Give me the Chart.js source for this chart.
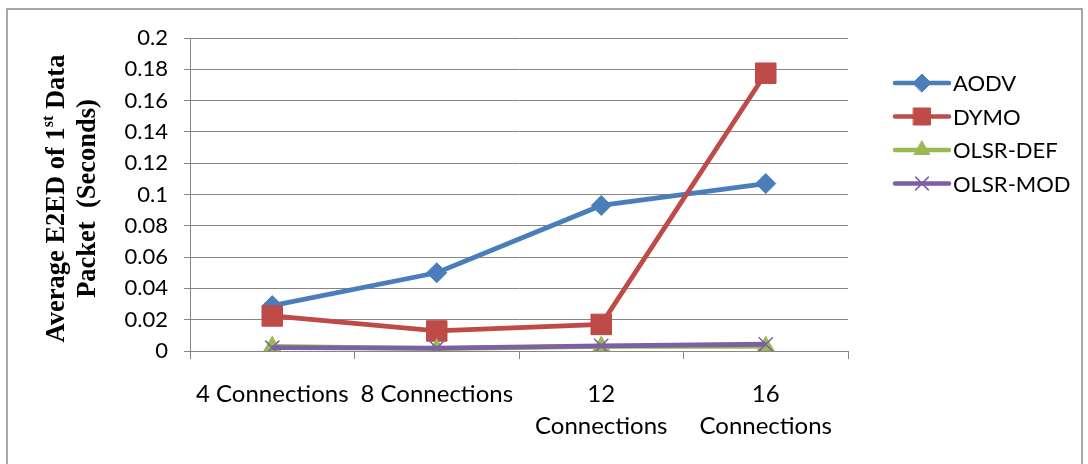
<!DOCTYPE html>
<html>
<head>
<meta charset="utf-8">
<script src="https://cdn.jsdelivr.net/npm/chart.js@4/dist/chart.umd.min.js"></script>
<style>
  html, body { margin: 0; padding: 0; background: #fff; }
</style>
</head>
<body>
<canvas id="myChart" width="1088" height="464"></canvas>
<script>
// values
const categories = ['4 Connections', '8 Connections', ['12', 'Connections'], ['16', 'Connections']];
const yTicks = [0, 0.02, 0.04, 0.06, 0.08, 0.1, 0.12, 0.14, 0.16, 0.18, 0.2];
const aodv = [0.029, 0.050, 0.093, 0.107];
const dymo = [0.0224, 0.0128, 0.017, 0.1775];
const olsrDef = [0.003, 0.0015, 0.003, 0.003];
const olsrMod = [0.0021, 0.0018, 0.0033, 0.0043];

const gridColor = '#868686';

// rotated y title with the "st" superscript
const yTitlePlugin = {
  id: 'yTitle',
  afterDraw(chart) {
    const ctx = chart.ctx;
    const cy = (chart.chartArea.top + chart.chartArea.bottom) / 2 + 4;
    const big = 'bold 26.5px "Liberation Serif"';
    const small = 'bold 16px "Liberation Serif"';
    const lines = [
      { x: 57, parts: [['Average E2ED of 1', big, 0], ['st', small, -8.5], [' Data', big, 0]] },
      { x: 88, parts: [['Packet  (Seconds)', big, 0]] }
    ];
    ctx.save();
    ctx.fillStyle = '#000';
    ctx.textBaseline = 'middle';
    lines.forEach(line => {
      let total = 0;
      line.parts.forEach(p => { ctx.font = p[1]; total += ctx.measureText(p[0]).width; });
      ctx.save();
      ctx.translate(line.x, cy);
      ctx.rotate(-Math.PI / 2);
      let x = -total / 2;
      line.parts.forEach(p => {
        ctx.font = p[1];
        ctx.fillText(p[0], x, p[2]);
        x += ctx.measureText(p[0]).width;
      });
      ctx.restore();
    });
    ctx.restore();
  }
};

// legend with line + marker, like the office one
const sideLegend = {
  id: 'sideLegend',
  afterDraw(chart) {
    const ctx = chart.ctx;
    const sizes = [9, 12, 9, 9];
    chart.data.datasets.forEach((ds, i) => {
      const y = 83 + i * 33.5;
      ctx.save();
      ctx.strokeStyle = ds.borderColor;
      ctx.lineWidth = 4.5;
      ctx.lineCap = 'round';
      ctx.beginPath();
      ctx.moveTo(895, y);
      ctx.lineTo(949, y);
      ctx.stroke();
      ctx.fillStyle = ds.backgroundColor;
      ctx.strokeStyle = ds.backgroundColor;
      ctx.lineWidth = ds.pointBorderWidth;
      Chart.helpers.drawPoint(ctx, { pointStyle: ds.pointStyle, radius: sizes[i], borderWidth: ds.pointBorderWidth, rotation: 0 }, 922, y);
      ctx.fillStyle = '#000';
      ctx.font = '22px Lato';
      ctx.textBaseline = 'middle';
      ctx.fillText(ds.label, 953, y + 1);
      ctx.restore();
    });
  }
};

const frame = {
  id: 'frame',
  beforeDraw(chart) {
    const ctx = chart.ctx;
    ctx.save();
    ctx.fillStyle = '#fff';
    ctx.fillRect(0, 0, chart.width, chart.height);
    ctx.strokeStyle = '#8a8a8a';
    ctx.lineWidth = 1.5;
    ctx.strokeRect(7, 9, 1075, 480);
    ctx.restore();
  }
};

const data = {
  labels: categories,
  datasets: [
    { label: 'AODV', data: aodv, borderColor: '#4A7EBB', backgroundColor: '#4A7EBB',
      pointStyle: 'rectRot', pointRadius: 10, pointBorderWidth: 1, order: 4 },
    { label: 'DYMO', data: dymo, borderColor: '#BE4B48', backgroundColor: '#BE4B48',
      pointStyle: 'rect', pointRadius: 14.5, pointBorderWidth: 1, order: 3 },
    { label: 'OLSR-DEF', data: olsrDef, borderColor: '#98B954', backgroundColor: '#98B954',
      pointStyle: 'triangle', pointRadius: 10, pointBorderWidth: 1, order: 2 },
    { label: 'OLSR-MOD', data: olsrMod, borderColor: '#7D60A0', backgroundColor: '#7D60A0',
      pointStyle: 'crossRot', pointRadius: 10, pointBorderWidth: 1.5, order: 1 }
  ]
};

const config = {
  type: 'line',
  data: data,
  options: {
    responsive: false,
    animation: false,
    devicePixelRatio: 1,
    elements: { line: { borderWidth: 4.8, tension: 0 } },
    layout: { padding: { top: 38, right: 240, bottom: 0, left: 0 } },
    plugins: { legend: { display: false }, tooltip: { enabled: false } },
    scales: {
      x: {
        offset: true,
        grid: { offset: true, drawOnChartArea: false, drawTicks: true, tickLength: 8, color: gridColor },
        border: { color: gridColor, width: 1 },
        ticks: { font: { family: 'Lato', size: 24, lineHeight: 1.33 }, color: '#000',
          maxRotation: 0, autoSkip: false, padding: 19 },
        afterFit(scale) { scale.height = 113; }
      },
      y: {
        min: 0,
        max: 0.2,
        afterBuildTicks(scale) { scale.ticks = yTicks.map(v => ({ value: v })); },
        grid: { color: gridColor, tickLength: 6 },
        border: { color: gridColor, width: 1 },
        ticks: { font: { family: 'Lato', size: 22 }, color: '#000', padding: 16,
          callback: v => String(Number(v.toFixed(2))) },
        afterFit(scale) { scale.width = 190; }
      }
    }
  },
  plugins: [frame, yTitlePlugin, sideLegend]
};

const myChart = new Chart(document.getElementById('myChart'), config);
</script>
</body>
</html>
